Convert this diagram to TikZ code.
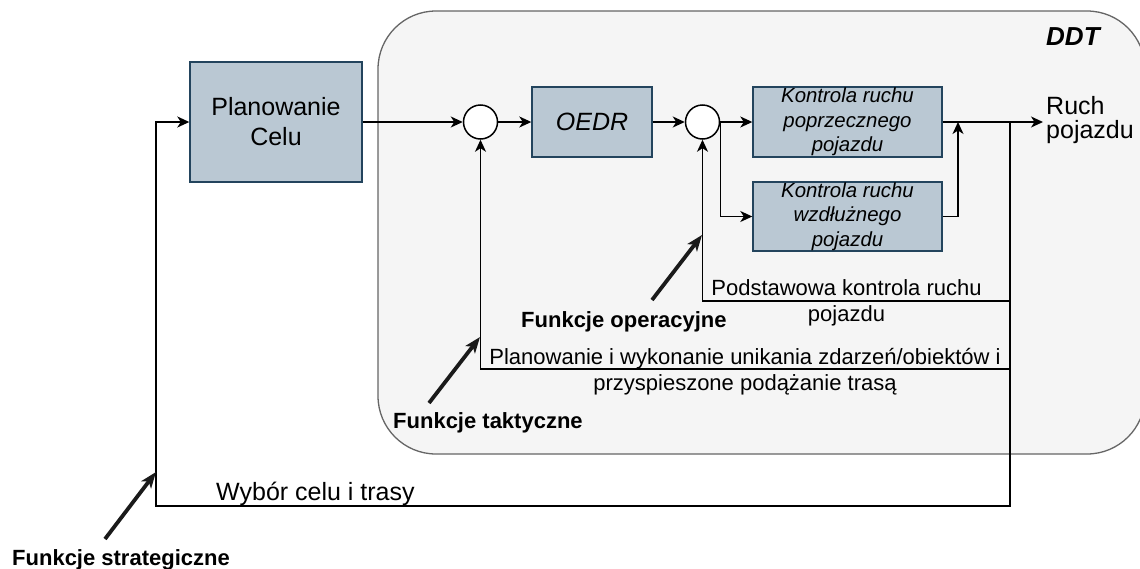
\documentclass[tikz,border=0pt]{standalone}
\usepackage{fontspec}
\setmainfont{Liberation Sans}
\usetikzlibrary{arrows.meta}
\definecolor{boxfill}{HTML}{BAC8D3}
\definecolor{boxline}{HTML}{23445D}
\definecolor{ddtfill}{HTML}{F5F5F5}
\definecolor{ddtline}{HTML}{666666}
\definecolor{ptrcol}{HTML}{1A1A1A}
\begin{document}
\begin{tikzpicture}[x=1pt,y=-1pt,
  blk/.style={draw=boxline,fill=boxfill,line width=1.4pt,inner sep=0pt,align=center},
  sumc/.style={circle,draw=black,fill=white,line width=1.5pt,minimum size=34pt,inner sep=0pt},
  conn/.style={line width=1.5pt,draw=black},
  arr/.style={conn,-{Stealth[length=12pt,width=11pt,inset=3.5pt]}},
  pointer/.style={line width=3.8pt,draw=ptrcol,-{Stealth[length=16pt,width=12pt,inset=4pt]}},
  lbl/.style={inner sep=0pt,font=\fontsize{22}{26}\selectfont},
  fn/.style={inner sep=0pt,font=\fontsize{22}{26}\selectfont\bfseries},
]
\useasboundingbox (0,0) rectangle (1140,568);
\fill[white] (0,0) rectangle (1140,568);
% DDT container
\draw[draw=ddtline,fill=ddtfill,line width=1.3pt,rounded corners=58pt] (378,11) rectangle (1145,454);
\node[inner sep=0pt,font=\fontsize{26}{30}\selectfont\bfseries\itshape,anchor=base west] (ddt) at (1046,45) {DDT};

% blocks
\node[blk,minimum width=172pt,minimum height=120pt,font=\fontsize{25}{30}\selectfont] (plan) at (276,122) {Planowanie\\Celu};
\node[sumc] (s1) at (480.5,122) {};
\node[blk,minimum width=120pt,minimum height=70pt,font=\fontsize{25}{29}\selectfont\itshape] (oedr) at (592,122) {OEDR};
\node[sumc] (s2) at (702.5,122) {};
\node[blk,minimum width=189pt,minimum height=70pt,font=\fontsize{20.4}{24.5}\selectfont\itshape] (lat) at (847.5,122) {Kontrola ruchu\\poprzecznego\\pojazdu};
\node[blk,minimum width=189pt,minimum height=69pt,font=\fontsize{20.4}{24.5}\selectfont\itshape] (lon) at (847.5,216.5) {Kontrola ruchu\\wzdłużnego\\pojazdu};
\node[inner sep=0pt,align=left,anchor=west,font=\fontsize{25}{24}\selectfont] (ruch) at (1046,120) {Ruch\\pojazdu};

% coordinates
\coordinate (out) at (1043,122);
\coordinate (jo) at (1010,122);
\coordinate (jm) at (958,122);
\coordinate (sb) at (156,506);
\coordinate (jop) at (1010,301);
\coordinate (jtac) at (1010,369);

% forward path
\draw[arr] (plan.east) -- (s1.west);
\draw[arr] (s1.east) -- (oedr.west);
\draw[arr] (oedr.east) -- (s2.west);
\draw[arr] (s2.east) -- (lat.west);
\draw[arr] (lat.east) -- (out);
\draw[arr] (s2.east) |- (lon.west);
\draw[arr] (lon.east) -| (jm);

% feedback loops
\draw[arr] (jo) |- (sb) |- (plan.west);
\draw[arr] (jop) -| (s2.south);
\draw[arr] (jtac) -| (s1.south);

% labels
\node[lbl,align=center] (podst) at (846.5,303) {Podstawowa kontrola ruchu\\pojazdu};
\node[lbl,align=center] (plw) at (745,371.3) {Planowanie i wykonanie unikania zdarzeń/obiektów i\\przyspieszone podążanie trasą};
\node[lbl,font=\fontsize{25}{28}\selectfont,anchor=base west] (wyb) at (216,500) {Wybór celu i trasy};
\node[fn,anchor=base west] (fstr) at (12,565) {Funkcje strategiczne};
\node[fn,anchor=base west] (ftak) at (393,428) {Funkcje taktyczne};
\node[fn,anchor=base west] (fop) at (521,327) {Funkcje operacyjne};

% pointers
\coordinate (ps0) at (105,539); \coordinate (ps1) at (156,472);
\coordinate (pt0) at (429,403); \coordinate (pt1) at (480,337);
\coordinate (po0) at (652,300); \coordinate (po1) at (702,235);
\draw[pointer] (ps0) -- (ps1);
\draw[pointer] (pt0) -- (pt1);
\draw[pointer] (po0) -- (po1);
\end{tikzpicture}
\end{document}
